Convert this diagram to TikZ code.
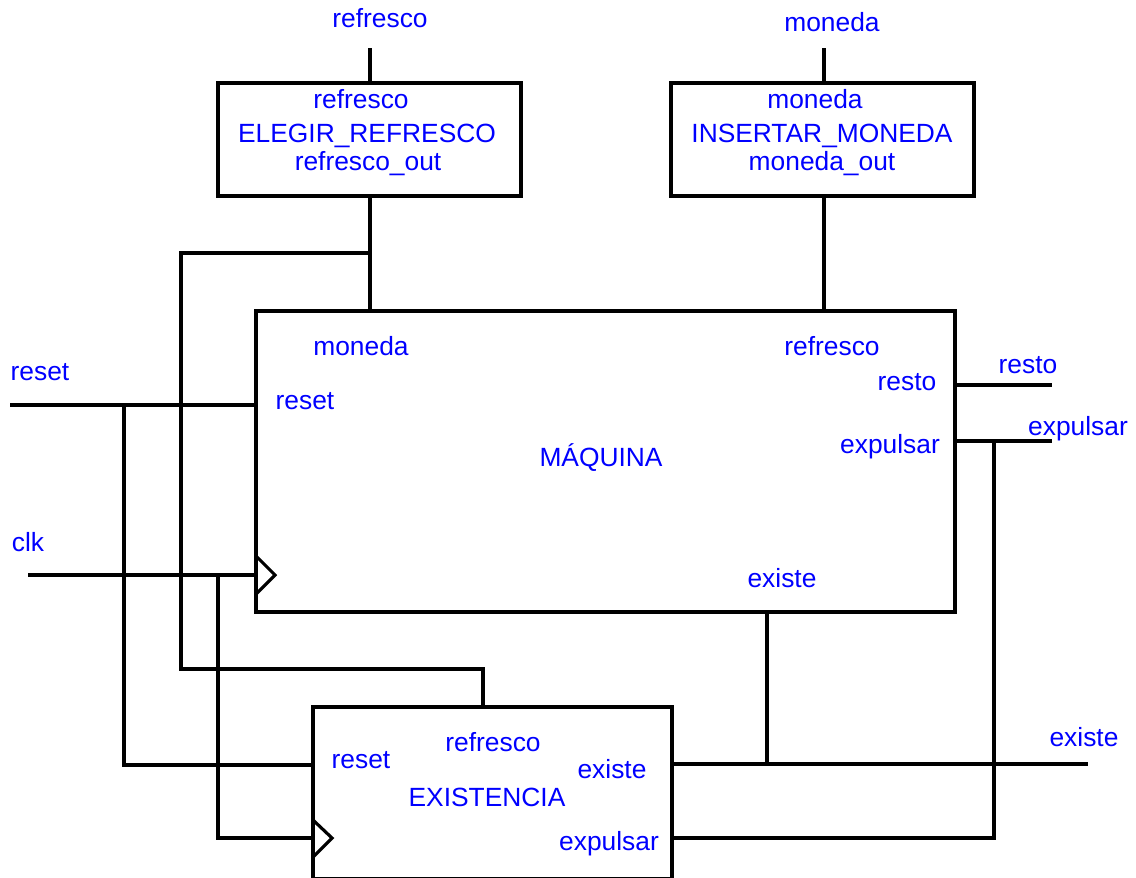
\documentclass[tikz,border=0pt]{standalone}
\usepackage{fontspec}
\setmainfont{Liberation Sans}
\begin{document}
\begin{tikzpicture}[x=0.02cm,y=-0.02cm,
  blk/.style={draw, rectangle, inner sep=0pt, line width=1.8pt},
  lbl/.style={text=blue, font=\fontsize{15}{18}\selectfont, inner sep=0pt},
  wire/.style={line width=1.8pt, line join=miter}]
\useasboundingbox (0,0) rectangle (1136,877);
% blocks
\node[blk, minimum width=6.06cm, minimum height=2.26cm] (elegir) at (369.5,139.5) {};
\node[blk, minimum width=6.06cm, minimum height=2.26cm] (insertar) at (822.5,139.5) {};
\node[blk, minimum width=13.98cm, minimum height=6.02cm] (maquina) at (605.5,461.5) {};
\node[blk, minimum width=7.18cm, minimum height=3.44cm] (existencia) at (492.5,793) {};
% clock triangles
\draw[wire] (256,556) coordinate (mck1) -- (275,575) coordinate (mck2) -- (256,594) coordinate (mck3);
\draw[wire] (313,820) coordinate (eck1) -- (332,838) coordinate (eck2) -- (313,857) coordinate (eck3);
% coordinates
\coordinate (reftop) at (370,48);
\coordinate (montop) at (824,48);
\coordinate (refsplit) at (370,253);
\coordinate (resetin) at (10,405);
\coordinate (clkin) at (28,575);
\coordinate (restoout) at (1052,385);
\coordinate (expout) at (1052,441);
\coordinate (existout) at (1088,764);
% wires
\draw[wire] (reftop) -- (reftop |- elegir.north);
\draw[wire] (montop) -- (montop |- insertar.north);
\draw[wire] (refsplit |- elegir.south) -- (refsplit |- maquina.north);
\draw[wire] (montop |- insertar.south) -- (montop |- maquina.north);
\draw[wire] (refsplit) -- (181,253) -- (181,669) -- (483,669) -- (483,707);
\draw[wire] (resetin) -- (resetin -| maquina.west);
\draw[wire] (124,405) -- (124,765) -- (313,765);
\draw[wire] (clkin) -- (clkin -| maquina.west);
\draw[wire] (218,575) -- (218,838) -- (313,838);
\draw[wire] (restoout -| maquina.east) -- (restoout);
\draw[wire] (expout -| maquina.east) -- (expout);
\draw[wire] (994,441) -- (994,838) -- (672,838);
\draw[wire] (672,764) -- (existout);
\draw[wire] (767,612) -- (767,764);
% external labels
\node[lbl] (l1) at (380,18) {refresco};
\node[lbl] (l2) at (832,22) {moneda};
\node[lbl] (l3) at (40,372) {reset};
\node[lbl] (l4) at (28,542) {clk};
\node[lbl] (l5) at (1028,365) {resto};
\node[lbl] (l6) at (1078,429) {expulsar};
\node[lbl] (l7) at (1084,737) {existe};
% ELEGIR
\node[lbl] (e1) at (361,99) {refresco};
\node[lbl] (e2) at (367,136) {ELEGIR\_REFRESCO};
\node[lbl] (e3) at (368,164) {refresco\_out};
% INSERTAR
\node[lbl] (i1) at (815,99) {moneda};
\node[lbl] (i2) at (822,136) {INSERTAR\_MONEDA};
\node[lbl] (i3) at (822,164) {moneda\_out};
% MAQUINA
\node[lbl] (m1) at (361,346) {moneda};
\node[lbl] (m2) at (832,346) {refresco};
\node[lbl] (m3) at (907,382) {resto};
\node[lbl] (m4) at (305,401) {reset};
\node[lbl] (m5) at (601,458) {MÁQUINA};
\node[lbl] (m6) at (890,447) {expulsar};
\node[lbl] (m7) at (782,578) {existe};
% EXISTENCIA
\node[lbl] (x1) at (493,742) {refresco};
\node[lbl] (x2) at (361,760) {reset};
\node[lbl] (x3) at (612,769) {existe};
\node[lbl] (x4) at (487,797) {EXISTENCIA};
\node[lbl] (x5) at (609,844) {expulsar};
\end{tikzpicture}
\end{document}
